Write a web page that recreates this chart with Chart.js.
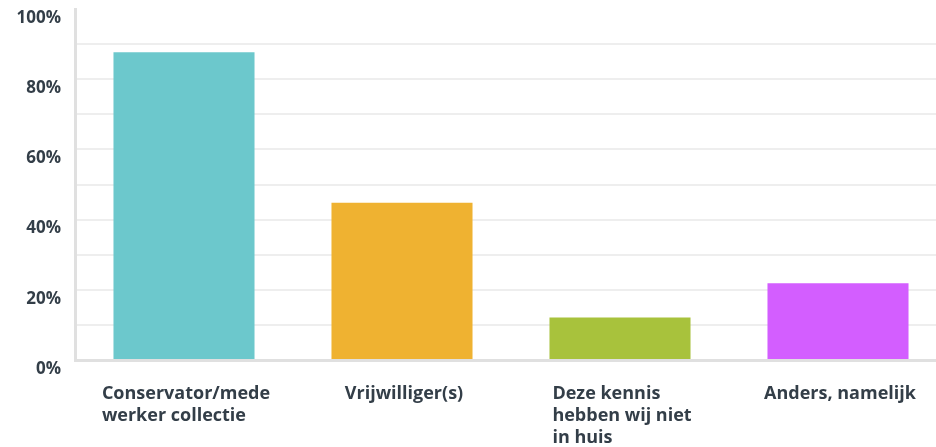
<!DOCTYPE html>
<html>
<head>
<meta charset="utf-8">
<script src="https://cdn.jsdelivr.net/npm/chart.js@4.4.1/dist/chart.umd.min.js"></script>
<style>
  html, body { margin: 0; padding: 0; background: #fff; overflow: hidden; }
  #wrap { width: 948px; height: 447px; }
</style>
</head>
<body>
<div id="wrap"><canvas id="myChart"></canvas></div>
<script>
  // categories (split into lines as in the picture)
  const categories = [
    ['Conservator/mede', 'werker collectie'],
    ['Vrijwilliger(s)'],
    ['Deze kennis', 'hebben wij niet', 'in huis'],
    ['Anders, namelijk']
  ];
  const values = [87.7, 44.8, 12.1, 21.9];
  const barColors = ['#6cc8cc', '#efb231', '#a8c23c', '#d35eff'];
  const tickLabels = ['0%', '20%', '40%', '60%', '80%', '100%'];

  const textColor = '#333e48';

  // draws x labels: block centred under the bar, lines left aligned
  const xLabels = {
    id: 'xLabels',
    afterDraw(chart) {
      const ctx = chart.ctx;
      const xs = chart.scales.x;
      const bottom = chart.chartArea.bottom;
      ctx.save();
      ctx.font = 'bold 18px "Open Sans"';
      ctx.fillStyle = textColor;
      ctx.textAlign = 'left';
      ctx.textBaseline = 'middle';
      categories.forEach((lines, i) => {
        const cx = xs.getPixelForValue(i);
        let w = 0;
        lines.forEach(l => { w = Math.max(w, ctx.measureText(l).width); });
        lines.forEach((l, k) => {
          ctx.fillText(l, cx - w / 2 + 2, bottom + 34 + k * 22);
        });
      });
      ctx.restore();
    }
  };

  const ctx = document.getElementById('myChart');

  new Chart(ctx, {
    type: 'bar',
    data: {
      labels: categories.map(c => c.join(' ')),
      datasets: [{
        data: values,
        backgroundColor: barColors,
        borderWidth: 0,
        barPercentage: 0.647,
        categoryPercentage: 1
      }]
    },
    plugins: [xLabels],
    options: {
      responsive: true,
      maintainAspectRatio: false,
      animation: false,
      layout: { padding: { top: 9, bottom: 87, left: 0, right: 1 } },
      plugins: {
        legend: { display: false },
        tooltip: { enabled: false }
      },
      scales: {
        x: {
          ticks: { display: false },
          grid: { display: false, drawTicks: false },
          border: { display: true, color: '#e0e0e0', width: 3 }
        },
        y: {
          min: 0,
          max: 100,
          afterFit(scale) {
            scale.width = 75;
            scale.paddingTop = 0;
            scale.paddingBottom = 0;
          },
          ticks: {
            stepSize: 10,
            padding: 14,
            labelOffset: 9,
            color: textColor,
            font: { family: '"Open Sans"', size: 17, weight: 'bold' },
            callback: v => (v % 20 === 0 ? tickLabels[v / 20] : '')
          },
          grid: {
            drawTicks: false,
            lineWidth: 2,
            color: c => (c.tick && c.tick.value === 100 ? 'rgba(0,0,0,0)' : '#eeeeee')
          },
          border: { display: true, color: '#e0e0e0', width: 3 }
        }
      }
    }
  });
</script>
</body>
</html>
